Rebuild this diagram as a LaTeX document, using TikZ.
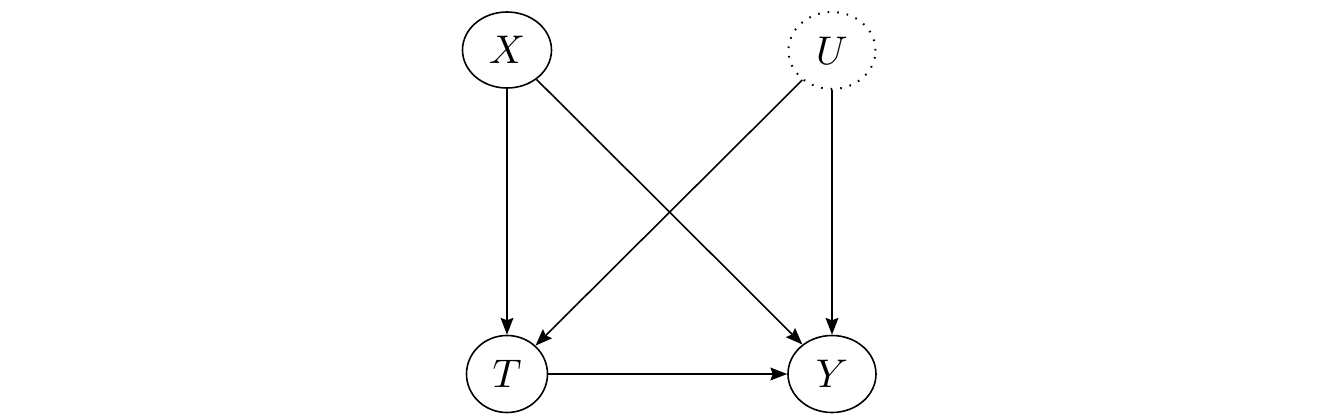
\documentclass[tikz,border=0pt]{standalone}
\usetikzlibrary{shapes.geometric,arrows.meta}
\begin{document}
\begin{tikzpicture}[x=0.25pt,y=-0.25pt,
  var/.style={ellipse,draw,line width=0.4pt,inner sep=0pt,font=\normalsize},
  hidden/.style={var,dotted,line width=0.5pt},
  edge/.style={line width=0.4pt,-{Stealth[length=4.2pt,width=3.2pt,inset=0.6pt]}}]
\useasboundingbox (0,0) rectangle (1331,418);
\node[var,minimum width=22.25pt,minimum height=19pt] (X) at (507,50) {$X$};
\node[hidden,minimum width=21.75pt,minimum height=19.25pt] (U) at (832,50.5) {$U$};
\node[var,minimum width=20.25pt,minimum height=19.25pt] (T) at (507,374) {$T$};
\node[var,minimum width=22pt,minimum height=19.25pt] (Y) at (832,374) {$Y$};
\draw[edge] (X) -- (T);
\draw[edge] (X) -- (Y);
\draw[edge] (U) -- (T);
\draw[edge] (U) -- (Y);
\draw[edge] (T) -- (Y);
\end{tikzpicture}
\end{document}
